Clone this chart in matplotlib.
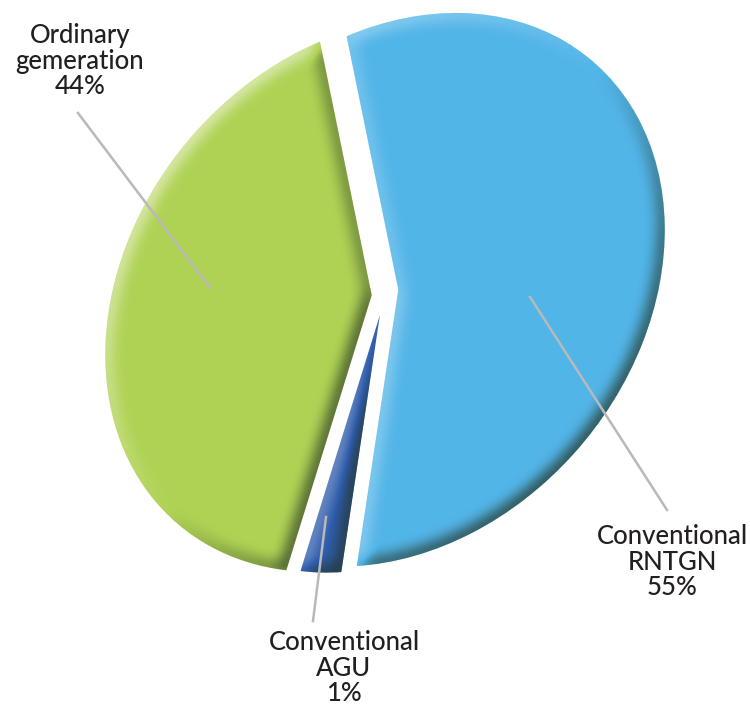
import numpy as np
import matplotlib
matplotlib.use("Agg")
import matplotlib.pyplot as plt
from matplotlib.transforms import Affine2D

# shares as the slices are drawn in the picture (printed labels differ a bit)
drawn_shares = [55.6, 41.7, 2.7]
slice_colors = ["#52b5e8", "#b0d254", "#2f5cab"]
slice_explode = [0.05, 0.05, 0.08]
label_texts = ["Conventional\nRNTGN\n55%", "Ordinary\ngemeration\n44%", "Conventional\nAGU\n1%"]

plt.rcParams["font.family"] = ["Lato", "DejaVu Sans"]


def box_blur(a, r, passes=3):
    for _ in range(passes):
        for axis in (0, 1):
            k = np.ones(2 * r + 1) / (2 * r + 1)
            a = np.apply_along_axis(lambda v: np.convolve(v, k, mode="same"), axis, a)
    return a


def add_bevel(ax, wedge, tf, blur=7, light=0.4, dark=0.65):
    # emboss overlay: bright on upper left edges, dark on lower right ones
    path = wedge.get_path().transformed(wedge.get_patch_transform()).transformed(tf)
    xs, ys = np.meshgrid(np.arange(0, 750), np.arange(0, 705))
    pts = np.column_stack([xs.ravel() + 0.5, ys.ravel() + 0.5])
    mask = path.contains_points(pts).reshape(xs.shape).astype(float)
    soft = box_blur(mask, blur)
    gy, gx = np.gradient(soft)
    s = (gx - gy) / np.sqrt(2)
    s = s / np.abs(s).max()
    rgba = np.zeros(mask.shape + (4,))
    rgba[s > 0, :3] = 1.0
    rgba[s <= 0, :3] = [0.14, 0.2, 0.14]
    rgba[..., 3] = np.where(s > 0, s * light, -s * dark)
    im = ax.imshow(rgba, extent=(0, 750, 0, 705), origin="lower", zorder=3, interpolation="bilinear")
    im.set_clip_path(wedge)


fig = plt.figure(figsize=(7.5, 7.05), dpi=100)
ax = fig.add_axes([0, 0, 1, 1])

wedges, _ = ax.pie(drawn_shares, colors=slice_colors, explode=slice_explode, startangle=-92.6,
                   counterclock=True, radius=1, wedgeprops={"linewidth": 0, "zorder": 2})

# the small slice stops short of the outline of the other two
wedges[2].set_radius(0.93)

# the pie is a tilted ellipse, long axis running up to the right
tf = Affine2D().rotate_deg(-50).scale(300, 240).rotate_deg(50).translate(385, 705 - 293)
for w, light in zip(wedges, [0.3, 0.45, 0.25]):
    w.set_transform(tf + ax.transData)
    add_bevel(ax, w, tf, light=light)

ax.set_xlim(0, 750)
ax.set_ylim(0, 705)
ax.set_aspect("auto")
ax.axis("off")

# leader lines
line_color = "#b9b9b9"
ax.plot([530, 667], [705 - 297, 705 - 510], color=line_color, lw=1.8, zorder=5)
ax.plot([78, 210], [705 - 113, 705 - 288], color=line_color, lw=1.8, zorder=5)
ax.plot([326, 313], [705 - 517, 705 - 621], color=line_color, lw=1.8, zorder=5)

text_color = "#231f20"
for txt, x, y in zip(label_texts, [672, 80, 344], [524, 23, 630]):
    ax.text(x, 705 - y, txt, ha="center", va="top", fontsize=18.5, color=text_color,
            fontweight="medium", linespacing=1.03, zorder=6)

fig.savefig("out.png", dpi=100)
